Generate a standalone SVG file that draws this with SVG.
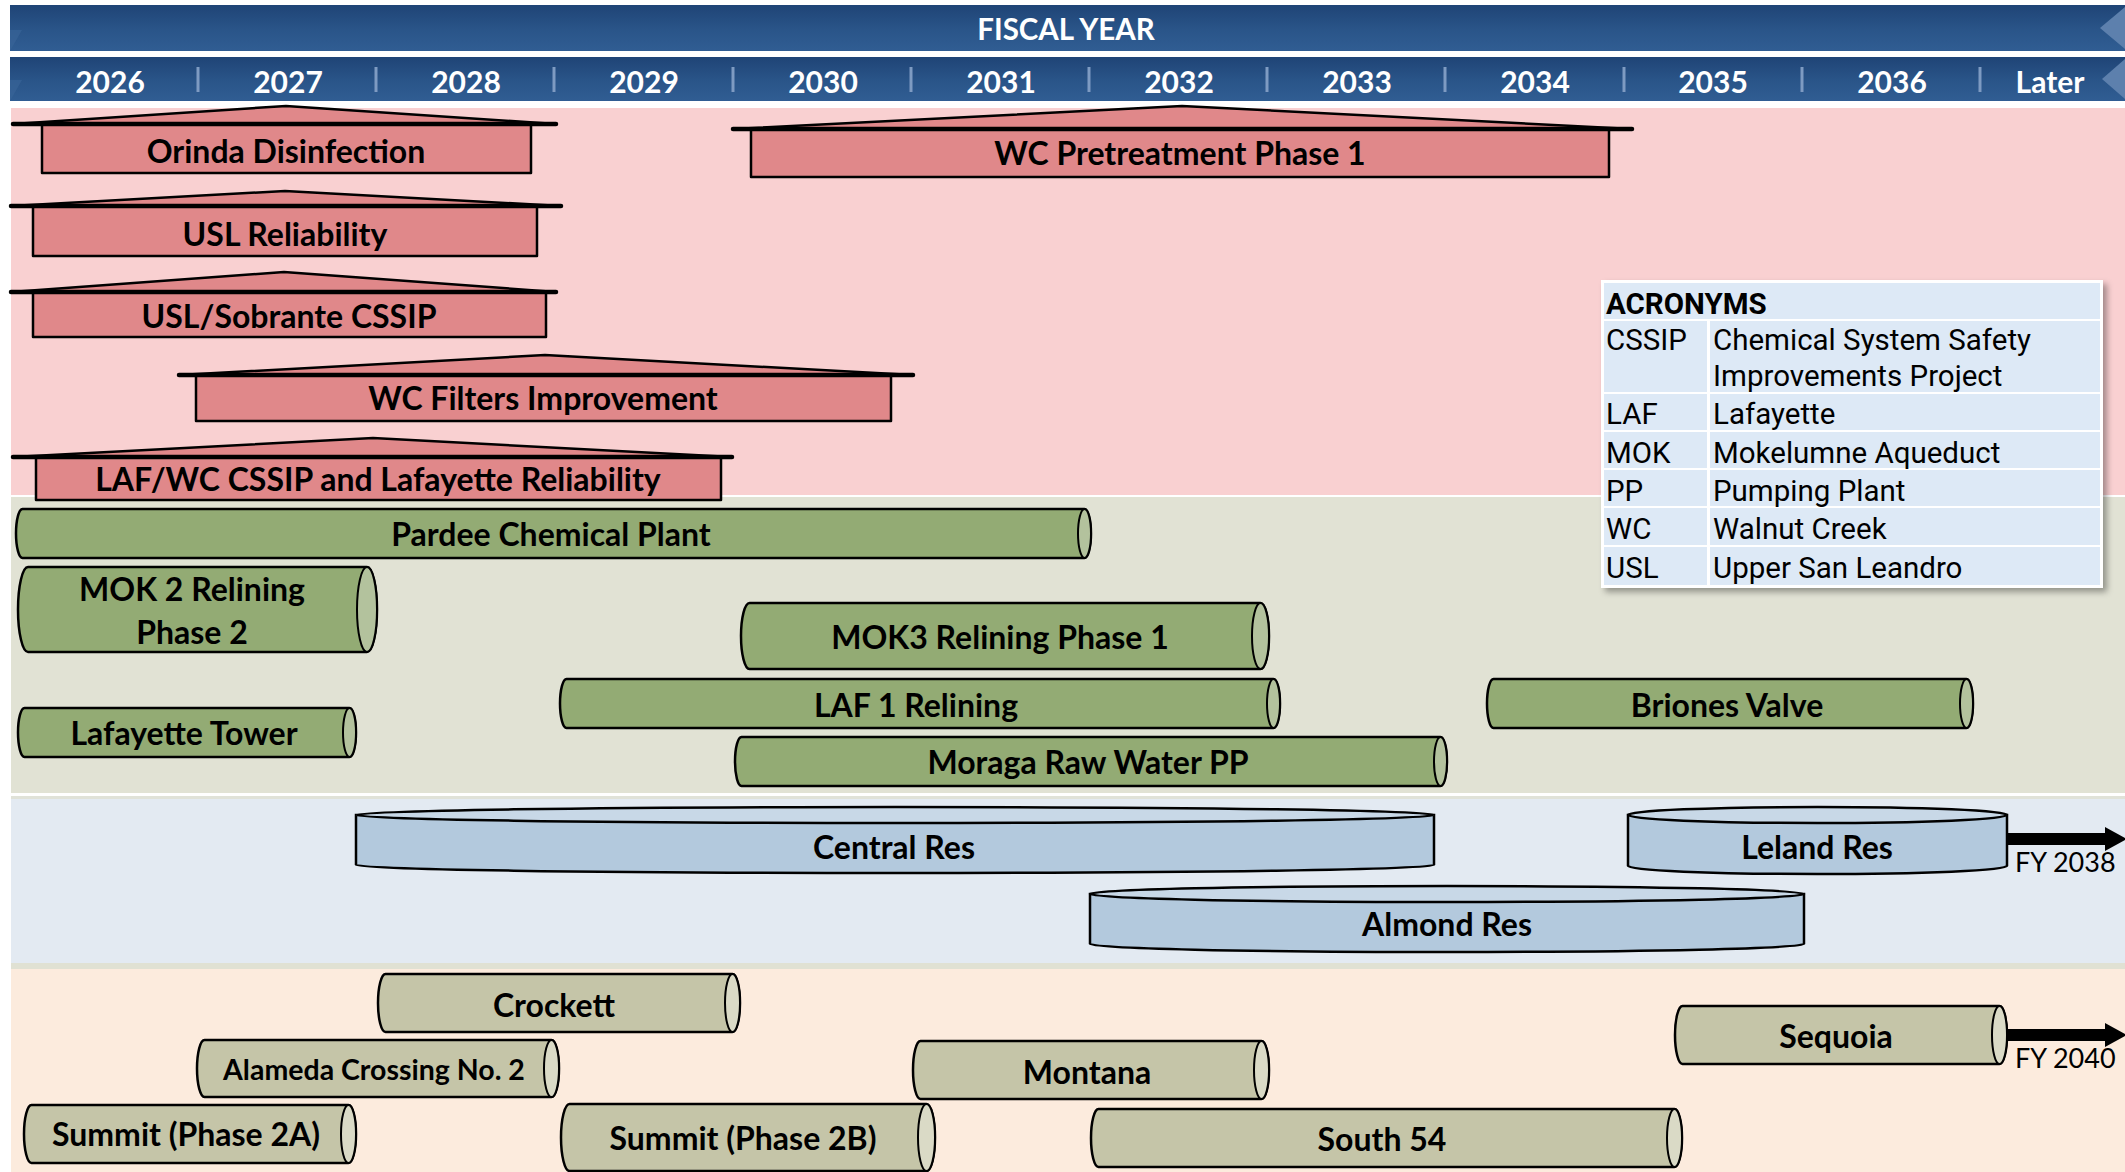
<svg xmlns="http://www.w3.org/2000/svg" width="2125" height="1172" viewBox="0 0 2125 1172">
<defs>
<linearGradient id="hdr" x1="0" y1="0" x2="0" y2="1">
<stop offset="0" stop-color="#1f4476"/>
<stop offset="0.55" stop-color="#2a5589"/>
<stop offset="1" stop-color="#305d93"/>
</linearGradient>
<filter id="sh" x="-5%" y="-5%" width="112%" height="115%">
<feDropShadow dx="4" dy="4" stdDeviation="3" flood-color="#000" flood-opacity="0.35"/>
</filter>
<marker id="ah" viewBox="0 0 22 24" refX="0" refY="12" markerWidth="22" markerHeight="24" markerUnits="userSpaceOnUse" orient="auto">
<path d="M0,0 L22,12 L0,24 Z" fill="#000"/>
</marker>
</defs>
<style>
.lbl{font-family:Lato,"Liberation Sans",sans-serif;font-weight:700;font-size:32px;fill:#000;text-anchor:middle}
.sm{font-size:28.5px}
.yr{font-family:Lato,"Liberation Sans",sans-serif;font-weight:700;font-size:30px;fill:#fff;text-anchor:middle}
.fy{font-family:Lato,"Liberation Sans",sans-serif;font-size:27px;fill:#000}
.tb{font-family:Roboto,"Liberation Sans",sans-serif;font-size:29.5px;fill:#000}
.tbh{font-weight:700}
.red{fill:#e0888a;stroke:#000;stroke-width:2.5;stroke-linejoin:round}
.eave{stroke:#000;stroke-width:4.5;stroke-linecap:round}
.grn{fill:#93ab74;stroke:#000;stroke-width:2.5}
.grnf{fill:#b3c29d;stroke:#000;stroke-width:2}
.tan{fill:#c5c5a8;stroke:#000;stroke-width:2.5}
.tanf{fill:#dadac6;stroke:#000;stroke-width:2}
.blu{fill:#b3c9dd;stroke:#000;stroke-width:2.5}
.bluf{fill:#c8d8e7;stroke:#000;stroke-width:2.5}
.sep{stroke:#7e9bc2;stroke-width:3}
.cell{fill:#dde9f6}
.arr{stroke:#000;stroke-width:12;fill:none}
</style>

<!-- background bands -->
<g id="bands">
<rect x="0" y="0" width="2125" height="1172" fill="#fff"/>
<rect x="11" y="108" width="2114" height="387" fill="#f9d0d1"/>
<rect x="11" y="497" width="2114" height="296" fill="#e1e2d4"/>
<rect x="11" y="796" width="2114" height="3" fill="#e0e2d8"/>
<rect x="11" y="799" width="2114" height="164" fill="#e3eaf2"/>
<rect x="11" y="963" width="2114" height="6" fill="#e0e1d3"/>
<rect x="11" y="969" width="2114" height="203" fill="#fcebdd"/>
</g>

<!-- header -->
<g id="header">
<rect x="10" y="5" width="2115" height="46" fill="url(#hdr)"/>
<polygon points="2125,7 2100,28 2125,49" fill="#5d80ad"/>
<polygon points="10,51 10,30 22,30" fill="#3b6699" opacity="0.6"/>
<text class="yr" x="1066" y="40" style="font-size:29.5px">FISCAL YEAR</text>
<rect x="10" y="57" width="2115" height="44" fill="url(#hdr)"/>
<polygon points="2125,59 2102,79 2125,99" fill="#5d80ad"/>
<polygon points="10,101 10,80 22,80" fill="#3b6699" opacity="0.6"/>
<line class="sep" x1="198" y1="67" x2="198" y2="92"/>
<line class="sep" x1="376" y1="67" x2="376" y2="92"/>
<line class="sep" x1="554" y1="67" x2="554" y2="92"/>
<line class="sep" x1="733" y1="67" x2="733" y2="92"/>
<line class="sep" x1="911" y1="67" x2="911" y2="92"/>
<line class="sep" x1="1089" y1="67" x2="1089" y2="92"/>
<line class="sep" x1="1267" y1="67" x2="1267" y2="92"/>
<line class="sep" x1="1445" y1="67" x2="1445" y2="92"/>
<line class="sep" x1="1624" y1="67" x2="1624" y2="92"/>
<line class="sep" x1="1802" y1="67" x2="1802" y2="92"/>
<line class="sep" x1="1980" y1="67" x2="1980" y2="92"/>
<text class="yr" x="110" y="93">2026</text>
<text class="yr" x="288" y="93">2027</text>
<text class="yr" x="466" y="93">2028</text>
<text class="yr" x="644" y="93">2029</text>
<text class="yr" x="823" y="93">2030</text>
<text class="yr" x="1001" y="93">2031</text>
<text class="yr" x="1179" y="93">2032</text>
<text class="yr" x="1357" y="93">2033</text>
<text class="yr" x="1535" y="93">2034</text>
<text class="yr" x="1713" y="93">2035</text>
<text class="yr" x="1892" y="93">2036</text>
<text class="yr" x="2050" y="93">Later</text>
</g>

<!-- red projects -->
<g id="orinda">
<polygon class="red" points="13,124 286,106 556,124"/>
<rect class="red" x="42" y="124" width="489" height="49"/>
<line class="eave" x1="13" y1="124" x2="556" y2="124"/>
<text class="lbl" x="286" y="163">Orinda Disinfection</text>
</g>
<g id="wc-pretreatment">
<polygon class="red" points="733,129 1182,106 1632,129"/>
<rect class="red" x="751" y="129" width="858" height="48"/>
<line class="eave" x1="733" y1="129" x2="1632" y2="129"/>
<text class="lbl" x="1180" y="165">WC Pretreatment Phase 1</text>
</g>
<g id="usl-reliability">
<polygon class="red" points="11,206 285,191 561,206"/>
<rect class="red" x="33" y="206" width="504" height="50"/>
<line class="eave" x1="11" y1="206" x2="561" y2="206"/>
<text class="lbl" x="285" y="246">USL Reliability</text>
</g>
<g id="usl-sobrante">
<polygon class="red" points="11,292 284,272 556,292"/>
<rect class="red" x="33" y="292" width="513" height="45"/>
<line class="eave" x1="11" y1="292" x2="556" y2="292"/>
<text class="lbl" x="289" y="328">USL/Sobrante CSSIP</text>
</g>
<g id="wc-filters">
<polygon class="red" points="179,375 545,355 913,375"/>
<rect class="red" x="196" y="375" width="695" height="46"/>
<line class="eave" x1="179" y1="375" x2="913" y2="375"/>
<text class="lbl" x="543" y="410">WC Filters Improvement</text>
</g>
<g id="laf-wc">
<polygon class="red" points="13,457 373,438 732,457"/>
<rect class="red" x="36" y="457" width="685" height="43"/>
<line class="eave" x1="13" y1="457" x2="732" y2="457"/>
<text class="lbl" x="378" y="491">LAF/WC CSSIP and Lafayette Reliability</text>
</g>

<!-- acronyms table -->
<g id="acronyms">
<rect x="1601" y="280" width="502" height="308" fill="#fff" filter="url(#sh)"/>
<rect class="cell" x="1604" y="283" width="496" height="36"/>
<rect class="cell" x="1604" y="321" width="103" height="71"/>
<rect class="cell" x="1710" y="321" width="390" height="71"/>
<rect class="cell" x="1604" y="394" width="103" height="36"/>
<rect class="cell" x="1710" y="394" width="390" height="36"/>
<rect class="cell" x="1604" y="432" width="103" height="36"/>
<rect class="cell" x="1710" y="432" width="390" height="36"/>
<rect class="cell" x="1604" y="470" width="103" height="36"/>
<rect class="cell" x="1710" y="470" width="390" height="36"/>
<rect class="cell" x="1604" y="508" width="103" height="37"/>
<rect class="cell" x="1710" y="508" width="390" height="37"/>
<rect class="cell" x="1604" y="547" width="103" height="38"/>
<rect class="cell" x="1710" y="547" width="390" height="38"/>
<text class="tb tbh" x="1606" y="314">ACRONYMS</text>
<text class="tb" x="1606" y="350">CSSIP</text>
<text class="tb" x="1713" y="350">Chemical System Safety</text>
<text class="tb" x="1713" y="386">Improvements Project</text>
<text class="tb" x="1606" y="424">LAF</text>
<text class="tb" x="1713" y="424">Lafayette</text>
<text class="tb" x="1606" y="463">MOK</text>
<text class="tb" x="1713" y="463">Mokelumne Aqueduct</text>
<text class="tb" x="1606" y="501">PP</text>
<text class="tb" x="1713" y="501">Pumping Plant</text>
<text class="tb" x="1606" y="539">WC</text>
<text class="tb" x="1713" y="539">Walnut Creek</text>
<text class="tb" x="1606" y="578">USL</text>
<text class="tb" x="1713" y="578">Upper San Leandro</text>
</g>

<!-- green pipelines -->
<g id="pardee">
<path class="grn" d="M22.5,509 H1084.5 A6.5,24.5 0 0 1 1084.5,558 H22.5 A6.5,24.5 0 0 1 22.5,509 Z"/>
<ellipse class="grnf" cx="1084.5" cy="533.5" rx="6.5" ry="24.5"/>
<text class="lbl" x="551" y="546">Pardee Chemical Plant</text>
</g>
<g id="mok2">
<path class="grn" d="M28,567 H367 A10,42.5 0 0 1 367,652 H28 A10,42.5 0 0 1 28,567 Z"/>
<ellipse class="grnf" cx="367" cy="609.5" rx="10" ry="42.5"/>
<text class="lbl" x="192" y="601">MOK 2 Relining</text>
<text class="lbl" x="192" y="644">Phase 2</text>
</g>
<g id="mok3">
<path class="grn" d="M749.5,603 H1260.5 A8.5,33 0 0 1 1260.5,669 H749.5 A8.5,33 0 0 1 749.5,603 Z"/>
<ellipse class="grnf" cx="1260.5" cy="636" rx="8.5" ry="33"/>
<text class="lbl" x="1000" y="649">MOK3 Relining Phase 1</text>
</g>
<g id="laf1">
<path class="grn" d="M566.5,679 H1273.5 A6.5,24.5 0 0 1 1273.5,728 H566.5 A6.5,24.5 0 0 1 566.5,679 Z"/>
<ellipse class="grnf" cx="1273.5" cy="703.5" rx="6.5" ry="24.5"/>
<text class="lbl" x="916" y="717">LAF 1 Relining</text>
</g>
<g id="briones">
<path class="grn" d="M1493.5,679 H1966.5 A6.5,24.5 0 0 1 1966.5,728 H1493.5 A6.5,24.5 0 0 1 1493.5,679 Z"/>
<ellipse class="grnf" cx="1966.5" cy="703.5" rx="6.5" ry="24.5"/>
<text class="lbl" x="1727" y="717">Briones Valve</text>
</g>
<g id="lafayette-tower">
<path class="grn" d="M24.5,708 H349.5 A6.5,24.5 0 0 1 349.5,757 H24.5 A6.5,24.5 0 0 1 24.5,708 Z"/>
<ellipse class="grnf" cx="349.5" cy="732.5" rx="6.5" ry="24.5"/>
<text class="lbl" x="184" y="745">Lafayette Tower</text>
</g>
<g id="moraga">
<path class="grn" d="M741.5,737 H1440.5 A6.5,24.5 0 0 1 1440.5,786 H741.5 A6.5,24.5 0 0 1 741.5,737 Z"/>
<ellipse class="grnf" cx="1440.5" cy="761.5" rx="6.5" ry="24.5"/>
<text class="lbl" x="1088" y="774">Moraga Raw Water PP</text>
</g>

<!-- blue reservoirs -->
<g id="central-res">
<path class="blu" d="M356,815 V865 A539,8 0 0 0 1434,865 V815 Z"/>
<ellipse class="bluf" cx="895" cy="815" rx="539" ry="8"/>
<text class="lbl" x="894" y="859">Central Res</text>
</g>
<g id="leland-res">
<path class="blu" d="M1628,815 V866 A189.5,8 0 0 0 2007,866 V815 Z"/>
<ellipse class="bluf" cx="1817.5" cy="815" rx="189.5" ry="8"/>
<text class="lbl" x="1817" y="859">Leland Res</text>
</g>
<g id="almond-res">
<path class="blu" d="M1090,894 V944 A357,8 0 0 0 1804,944 V894 Z"/>
<ellipse class="bluf" cx="1447" cy="894" rx="357" ry="8"/>
<text class="lbl" x="1447" y="936">Almond Res</text>
</g>

<!-- tan projects -->
<g id="crockett">
<path class="tan" d="M385.5,974 H732.5 A7.5,29 0 0 1 732.5,1032 H385.5 A7.5,29 0 0 1 385.5,974 Z"/>
<ellipse class="tanf" cx="732.5" cy="1003" rx="7.5" ry="29"/>
<text class="lbl" x="554" y="1017">Crockett</text>
</g>
<g id="alameda">
<path class="tan" d="M204.5,1040 H551.5 A7.5,28.5 0 0 1 551.5,1097 H204.5 A7.5,28.5 0 0 1 204.5,1040 Z"/>
<ellipse class="tanf" cx="551.5" cy="1068.5" rx="7.5" ry="28.5"/>
<text class="lbl sm" x="374" y="1080">Alameda Crossing No. 2</text>
</g>
<g id="montana">
<path class="tan" d="M920.5,1041 H1261.5 A7.5,29 0 0 1 1261.5,1099 H920.5 A7.5,29 0 0 1 920.5,1041 Z"/>
<ellipse class="tanf" cx="1261.5" cy="1070" rx="7.5" ry="29"/>
<text class="lbl" x="1087" y="1084">Montana</text>
</g>
<g id="sequoia">
<path class="tan" d="M1682.5,1006 H1999.5 A7.5,29 0 0 1 1999.5,1064 H1682.5 A7.5,29 0 0 1 1682.5,1006 Z"/>
<ellipse class="tanf" cx="1999.5" cy="1035" rx="7.5" ry="29"/>
<text class="lbl" x="1836" y="1048">Sequoia</text>
</g>
<g id="summit-2a">
<path class="tan" d="M31.5,1105 H348.5 A7.5,29 0 0 1 348.5,1163 H31.5 A7.5,29 0 0 1 31.5,1105 Z"/>
<ellipse class="tanf" cx="348.5" cy="1134" rx="7.5" ry="29"/>
<text class="lbl" x="186" y="1146">Summit (Phase 2A)</text>
</g>
<g id="summit-2b">
<path class="tan" d="M569.5,1104 H926.5 A8.5,33.5 0 0 1 926.5,1171 H569.5 A8.5,33.5 0 0 1 569.5,1104 Z"/>
<ellipse class="tanf" cx="926.5" cy="1137.5" rx="8.5" ry="33.5"/>
<text class="lbl" x="743" y="1150">Summit (Phase 2B)</text>
</g>
<g id="south-54">
<path class="tan" d="M1098.5,1109 H1674.5 A7.5,29 0 0 1 1674.5,1167 H1098.5 A7.5,29 0 0 1 1098.5,1109 Z"/>
<ellipse class="tanf" cx="1674.5" cy="1138" rx="7.5" ry="29"/>
<text class="lbl" x="1382" y="1151">South 54</text>
</g>

<!-- connectors -->
<g id="connectors">
<line class="arr" x1="2008" y1="839" x2="2105" y2="839" marker-end="url(#ah)"/>
<text class="fy" x="2015" y="872">FY 2038</text>
<line class="arr" x1="2008" y1="1035" x2="2105" y2="1035" marker-end="url(#ah)"/>
<text class="fy" x="2015" y="1068">FY 2040</text>
</g>
</svg>
